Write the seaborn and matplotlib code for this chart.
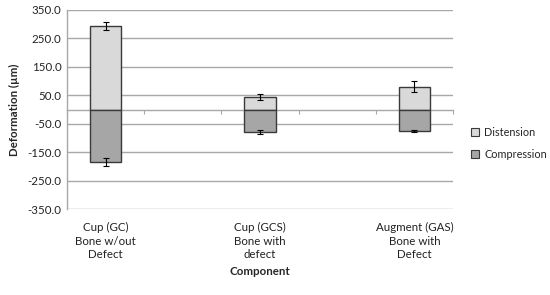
import matplotlib
matplotlib.use("Agg")
import matplotlib.pyplot as plt
import matplotlib.patches as mpatches
import seaborn as sns
import pandas as pd
import numpy as np

categories = ["Cup (GC)\nBone w/out\nDefect", " ", "Cup (GCS)\nBone with\ndefect", "  ", "Augment (GAS)\nBone with\nDefect"]
present = ["Cup (GC)\nBone w/out\nDefect", "Cup (GCS)\nBone with\ndefect", "Augment (GAS)\nBone with\nDefect"]
distension = [293, 44, 80]
distension_err = [13, 10, 20]
compression = [-184, -79, -75]
compression_err = [13, 8, 3]
yticks = [350, 250, 150, 50, -50, -150, -250, -350]

sns.set_theme(style="white")
plt.rcParams['font.family'] = ['Lato', 'DejaVu Sans']

FS = 8.3
fig = plt.figure(figsize=(5.5, 2.95), dpi=100)
ax = fig.add_axes([0.1218, 0.2905, 0.7018, 0.6765])

df_d = pd.DataFrame({"cat": present, "val": distension})
df_c = pd.DataFrame({"cat": present, "val": compression})

light = "#d9d9d9"
dark = "#a6a6a6"
edge = "#3a3a3a"

sns.barplot(data=df_d, x="cat", y="val", order=categories, color=light,
            saturation=1, width=0.41, edgecolor=edge, linewidth=1.0, ax=ax, errorbar=None)
sns.barplot(data=df_c, x="cat", y="val", order=categories, color=dark,
            saturation=1, width=0.41, edgecolor=edge, linewidth=1.0, ax=ax, errorbar=None)

pos = [categories.index(c) for c in present]
ax.errorbar(pos, distension, yerr=distension_err, fmt="none", ecolor="black",
            elinewidth=0.8, capsize=2.5, capthick=0.8, zorder=5)
ax.errorbar(pos, compression, yerr=compression_err, fmt="none", ecolor="black",
            elinewidth=0.8, capsize=2.5, capthick=0.8, zorder=5)

ax.set_ylim(-350, 350)
ax.set_xlim(-0.5, len(categories) - 0.5)
ax.set_yticks(yticks)
ax.set_yticklabels([f"{v:.1f}" for v in yticks], fontsize=FS, color="#222222")
ax.tick_params(axis="y", length=0, pad=4)
for v in yticks:
    ax.axhline(v, color="#a8a8a8", linewidth=1.0, zorder=0)

# x axis line at zero with boundary ticks
ax.spines["bottom"].set_position(("data", 0))
ax.spines["bottom"].set_color("#a8a8a8")
ax.spines["bottom"].set_linewidth(1.0)
ax.spines["bottom"].set_zorder(0.5)
ax.set_xticks(np.arange(-0.5, len(categories) + 0.5, 1.0))
ax.set_xticklabels([])
ax.tick_params(axis="x", direction="out", length=3, width=0.8, color="#a8a8a8", bottom=True)
for s in ["top", "right"]:
    ax.spines[s].set_visible(False)
ax.spines["left"].set_color("#a8a8a8")
ax.spines["left"].set_linewidth(1.0)

sec = ax.secondary_xaxis("bottom")
sec.set_xticks(range(len(categories)))
sec.set_xticklabels(categories, fontsize=FS, color="#222222", linespacing=1.3)
sec.tick_params(length=0, pad=9)
sec.spines["bottom"].set_visible(False)
sec.set_xlabel("Component", fontsize=FS, fontweight="bold", labelpad=4)

ax.set_xlabel("")
ax.set_ylabel("Deformation (µm)", fontsize=FS, fontweight="bold", labelpad=5)

handles = [mpatches.Patch(facecolor=light, edgecolor=edge, linewidth=0.8, label="Distension"),
           mpatches.Patch(facecolor=dark, edgecolor=edge, linewidth=0.8, label="Compression")]
fig.legend(handles=handles, loc="center left", bbox_to_anchor=(0.856, 0.514), frameon=False,
           fontsize=7.8, handlelength=0.75, handleheight=0.75, handletextpad=0.5, labelspacing=0.95,
           borderpad=0, borderaxespad=0)

fig.savefig("out.png", dpi=100)
